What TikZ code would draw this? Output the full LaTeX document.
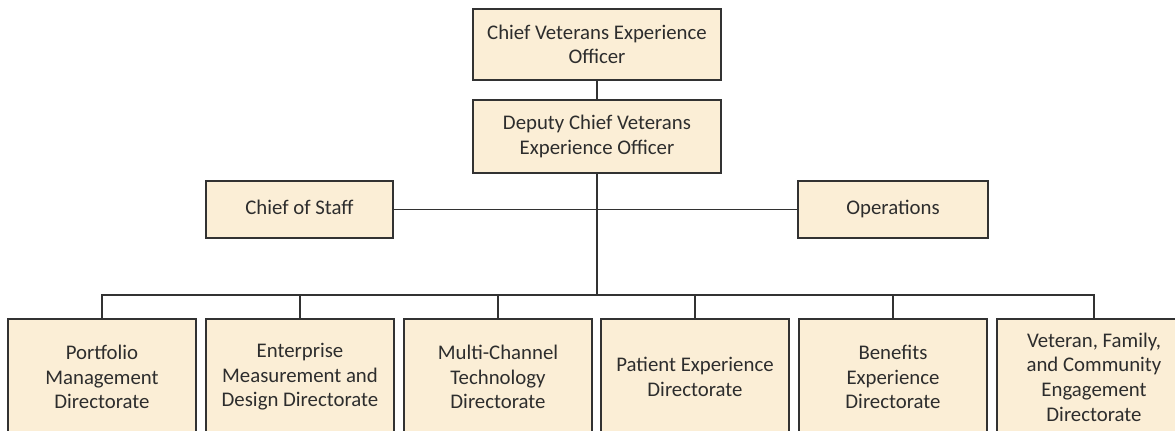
\documentclass[tikz,border=0pt]{standalone}
\usepackage{fontspec}
\setmainfont{Carlito}
\usetikzlibrary{positioning}

\definecolor{boxfill}{RGB}{251,238,214}
\definecolor{boxline}{RGB}{50,50,50}
\definecolor{boxtext}{RGB}{45,45,45}

\begin{document}
\begin{tikzpicture}[x=0.5pt,y=-0.5pt,
                    office/.style={draw=boxline,fill=boxfill,line width=0.65pt,
                      text=boxtext,align=center,inner sep=2pt,
                      font=\fontsize{10.4}{12.3}\selectfont},
                    link/.style={draw=boxline,line width=0.65pt}]

\useasboundingbox (0,0) rectangle (1175,430);
\clip (0,0) rectangle (1175,430);

\node[office, minimum width=124pt, minimum height=35.5pt] (ceo) at (597,44.5)
  {Chief Veterans Experience\\Officer};
\node[office, minimum width=124pt, minimum height=36.5pt] (deputy) at (597,136.5)
  {Deputy Chief Veterans\\Experience Officer};

\node[office, minimum width=93.5pt, minimum height=28.5pt] (staff) at (299.5,209.5)
  {\strut Chief of Staff};
\node[office, minimum width=95pt, minimum height=28.5pt] (ops) at (893,209.5)
  {\strut Operations};

\node[office, minimum width=94pt, minimum height=58pt] (d1) at (102,377)
  {Portfolio\\Management\\Directorate};
\node[office, minimum width=94pt, minimum height=58pt] (d2) at (300,377)
  {Enterprise\\Measurement and\\Design Directorate};
\node[office, minimum width=94pt, minimum height=58pt] (d3) at (498,377)
  {Multi-Channel\\Technology\\Directorate};
\node[office, minimum width=94pt, minimum height=58pt] (d4) at (695,377)
  {Patient Experience\\Directorate};
\node[office, minimum width=94pt, minimum height=58pt] (d5) at (893,377)
  {Benefits\\Experience\\Directorate};
\node[office, minimum width=97pt, minimum height=58pt] (d6) at (1094,377)
  {Veteran, Family,\\and Community\\Engagement\\Directorate};

\coordinate (bus) at (597,295);

\draw[link] (ceo) -- (deputy);
\draw[link] (staff) -- (ops);
\draw[link] (deputy.south) -- (bus);
\foreach \i in {1,...,6}
  \draw[link] (d\i.north) |- (bus);

\end{tikzpicture}
\end{document}
